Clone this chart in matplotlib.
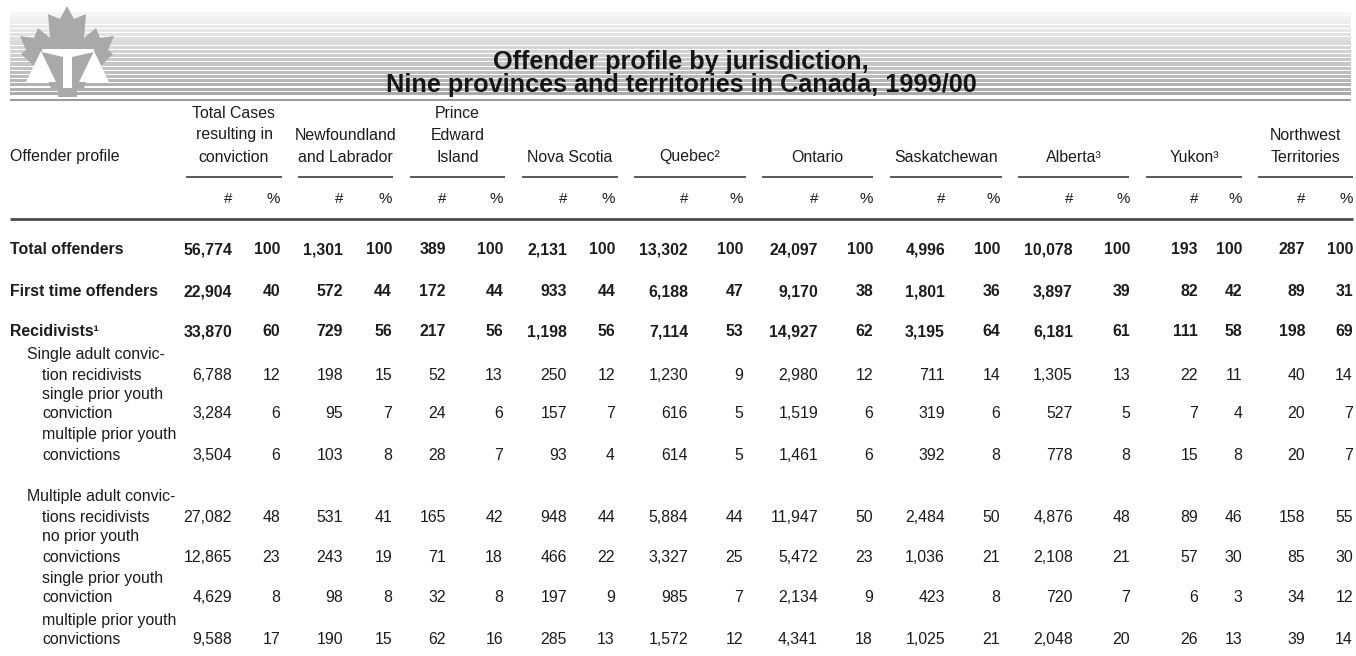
import matplotlib
matplotlib.use("Agg")
import matplotlib.pyplot as plt
from matplotlib.patches import Polygon, Rectangle

# ---------------- data ----------------
jurisdictions = [
    ["Total Cases", "resulting in", "conviction"],
    ["Newfoundland", "and Labrador"],
    ["Prince", "Edward", "Island"],
    ["Nova Scotia"],
    ["Quebec\u00b2"],
    ["Ontario"],
    ["Saskatchewan"],
    ["Alberta\u00b3"],
    ["Yukon\u00b3"],
    ["Northwest", "Territories"],
]

row_labels = [
    ["Total offenders"],
    ["First time offenders"],
    ["Recidivists\u00b9"],
    ["Single adult convic-", "tion recidivists"],
    ["single prior youth", "conviction"],
    ["multiple prior youth", "convictions"],
    ["Multiple adult convic-", "tions recidivists"],
    ["no prior youth", "convictions"],
    ["single prior youth", "conviction"],
    ["multiple prior youth", "convictions"],
]
row_level = [0, 0, 0, 1, 2, 2, 1, 2, 2, 2]

total_offenders_n = [56774, 1301, 389, 2131, 13302, 24097, 4996, 10078, 193, 287]
total_offenders_pct = [100, 100, 100, 100, 100, 100, 100, 100, 100, 100]
first_time_n = [22904, 572, 172, 933, 6188, 9170, 1801, 3897, 82, 89]
first_time_pct = [40, 44, 44, 44, 47, 38, 36, 39, 42, 31]
recidivists_n = [33870, 729, 217, 1198, 7114, 14927, 3195, 6181, 111, 198]
recidivists_pct = [60, 56, 56, 56, 53, 62, 64, 61, 58, 69]
single_adult_n = [6788, 198, 52, 250, 1230, 2980, 711, 1305, 22, 40]
single_adult_pct = [12, 15, 13, 12, 9, 12, 14, 13, 11, 14]
sa_single_youth_n = [3284, 95, 24, 157, 616, 1519, 319, 527, 7, 20]
sa_single_youth_pct = [6, 7, 6, 7, 5, 6, 6, 5, 4, 7]
sa_multi_youth_n = [3504, 103, 28, 93, 614, 1461, 392, 778, 15, 20]
sa_multi_youth_pct = [6, 8, 7, 4, 5, 6, 8, 8, 8, 7]
multi_adult_n = [27082, 531, 165, 948, 5884, 11947, 2484, 4876, 89, 158]
multi_adult_pct = [48, 41, 42, 44, 44, 50, 50, 48, 46, 55]
ma_no_youth_n = [12865, 243, 71, 466, 3327, 5472, 1036, 2108, 57, 85]
ma_no_youth_pct = [23, 19, 18, 22, 25, 23, 21, 21, 30, 30]
ma_single_youth_n = [4629, 98, 32, 197, 985, 2134, 423, 720, 6, 34]
ma_single_youth_pct = [8, 8, 8, 9, 7, 9, 8, 7, 3, 12]
ma_multi_youth_n = [9588, 190, 62, 285, 1572, 4341, 1025, 2048, 26, 39]
ma_multi_youth_pct = [17, 15, 16, 13, 12, 18, 21, 20, 13, 14]

title_lines = ["Offender profile by jurisdiction,",
               "Nine provinces and territories in Canada, 1999/00"]

# ---------------- layout ----------------
W, H = 1356, 656
FAM = ["Liberation Sans", "DejaVu Sans"]
FS = 11.4
TXT = "#1c1c1c"

rows_n = [total_offenders_n, first_time_n, recidivists_n, single_adult_n,
          sa_single_youth_n, sa_multi_youth_n, multi_adult_n, ma_no_youth_n,
          ma_single_youth_n, ma_multi_youth_n]
rows_pct = [total_offenders_pct, first_time_pct, recidivists_pct, single_adult_pct,
            sa_single_youth_pct, sa_multi_youth_pct, multi_adult_pct, ma_no_youth_pct,
            ma_single_youth_pct, ma_multi_youth_pct]

under_spans = [(186, 282), (298, 393), (410, 505), (522, 618), (634, 746),
               (762, 873), (890, 1002), (1018, 1129), (1146, 1242), (1258, 1353)]
num_right = [232, 343, 446, 567, 688, 818, 945, 1073, 1198, 1305]
pct_right = [280, 392, 503, 615, 743, 873, 1000, 1130, 1242, 1353]

# y of the line carrying the numbers
row_y = [250, 292, 332, 375, 414, 455, 517, 557, 598, 640]
line_gap = 20

fig = plt.figure(figsize=(W / 100, H / 100), dpi=100)
ax = fig.add_axes([0, 0, 1, 1])
ax.set_xlim(0, W)
ax.set_ylim(H, 0)
ax.axis("off")

# striped header band
n_str = 20
y_top, y_bot = 12.0, 96.0
period = (y_bot - y_top) / n_str
for i in range(n_str):
    g = 0.965 - 0.30 * i / (n_str - 1)
    y0 = y_top + i * period
    gap = 0.7 + 0.5 * i / (n_str - 1)
    ax.add_patch(Rectangle((10, y0), 1341, period - gap,
                           facecolor=(g, g, g), edgecolor="none", zorder=1))
ax.add_patch(Rectangle((10, 98.5), 1341, 2.2, facecolor="#9b9b9b",
                       edgecolor="none", zorder=1))

# logo: maple leaf with scales of justice
leaf = [(67, 6), (74, 19), (86, 14), (84, 38), (96, 28), (100, 38), (114, 36),
        (108, 50), (113, 54), (101, 66), (104, 80), (88, 78), (84, 88), (77, 88),
        (77, 97), (58, 97), (58, 88), (51, 88), (47, 78), (31, 80), (34, 66),
        (21, 54), (26, 50), (20, 36), (34, 38), (38, 28), (50, 38), (48, 14),
        (60, 19)]
ax.add_patch(Polygon(leaf, closed=True, facecolor="#a9a9a9", edgecolor="none", zorder=2))
white = "#ffffff"
ax.add_patch(Polygon([(26, 82), (56, 82), (41, 51)], closed=True, facecolor=white,
                     edgecolor="none", zorder=3))
ax.add_patch(Polygon([(79, 82), (109, 82), (94, 51)], closed=True, facecolor=white,
                     edgecolor="none", zorder=3))
ax.add_patch(Polygon([(42, 49), (94, 49), (94, 52), (72, 57), (63, 57), (42, 52)],
                     closed=True, facecolor=white, edgecolor="none", zorder=3))
ax.add_patch(Rectangle((63, 56), 9, 32, facecolor=white, edgecolor="none", zorder=3))

# title
for k, t in enumerate(title_lines):
    ax.text(681, 62 + 23 * k, t, ha="center", va="center", fontsize=18.2,
            fontweight="bold", family=FAM, color="#151515", zorder=5)

# column headers
for j, lines in enumerate(jurisdictions):
    x0, x1 = under_spans[j]
    cx = (x0 + x1) / 2
    n = len(lines)
    for k, t in enumerate(lines):
        y = 157 - 22 * (n - 1 - k)
        ax.text(cx, y, t, ha="center", va="center", fontsize=FS, family=FAM, color=TXT)
    ax.plot([x0, x1], [177, 177], color="#2a2a2a", lw=1.1, solid_capstyle="butt")
    ax.text(num_right[j], 199, "#", ha="right", va="center", fontsize=FS - 0.5,
            family=FAM, color=TXT)
    ax.text(pct_right[j], 199, "%", ha="right", va="center", fontsize=FS - 0.5,
            family=FAM, color=TXT)
ax.text(10, 157, "Offender profile", ha="left", va="center", fontsize=FS,
        family=FAM, color=TXT)

# rule
ax.plot([10, 1353], [219, 219], color="#4a4a4a", lw=2.0, solid_capstyle="butt")

# body
indent = {0: (10, 10), 1: (27, 42), 2: (42, 42)}
for i, lines in enumerate(row_labels):
    lvl = row_level[i]
    fw = "bold" if lvl == 0 else "normal"
    ylast = row_y[i]
    n = len(lines)
    for k, t in enumerate(lines):
        y = ylast - line_gap * (n - 1 - k)
        x = indent[lvl][0] if k == 0 else indent[lvl][1]
        ax.text(x, y, t, ha="left", va="center", fontsize=FS, fontweight=fw,
                family=FAM, color=TXT)
    for j in range(len(under_spans)):
        ax.text(num_right[j], ylast, f"{rows_n[i][j]:,}", ha="right", va="center",
                fontsize=FS, fontweight=fw, family=FAM, color=TXT)
        ax.text(pct_right[j], ylast, f"{rows_pct[i][j]}", ha="right", va="center",
                fontsize=FS, fontweight=fw, family=FAM, color=TXT)

fig.savefig("out.png", dpi=100, facecolor="white")
